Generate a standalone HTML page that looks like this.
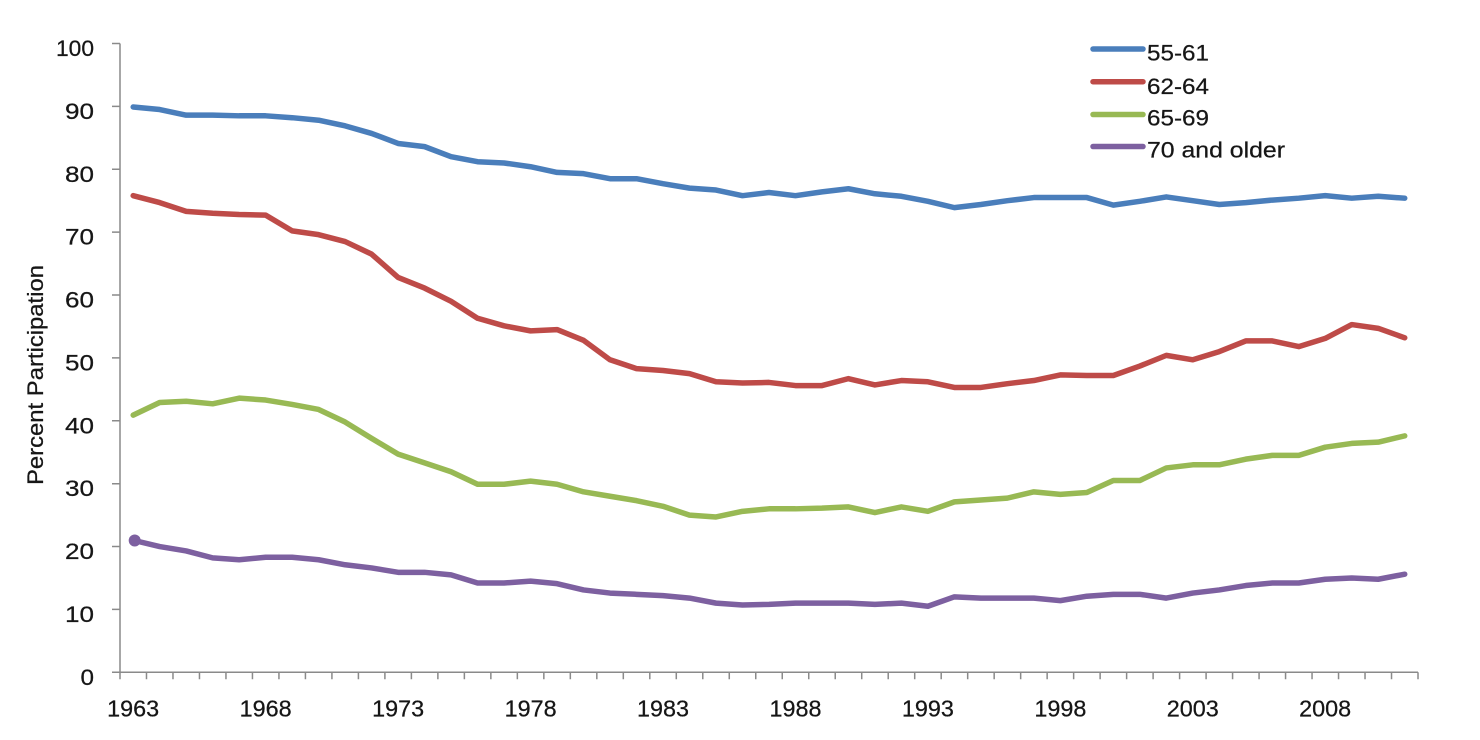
<!DOCTYPE html>
<html>
<head>
<meta charset="utf-8">
<style>
  html,body{margin:0;padding:0;background:#fff;}
  svg{display:block;}
  text{font-family:"Liberation Sans",Arial,sans-serif;fill:#161616;stroke:#161616;stroke-width:0.25;}
</style>
</head>
<body>
<svg width="1480" height="740" viewBox="0 0 1480 740" xmlns="http://www.w3.org/2000/svg">
  <rect x="0" y="0" width="1480" height="740" fill="#ffffff"/>

  <!-- axes -->
  <g stroke="#8a8a8a" stroke-width="1.5" fill="none">
    <line x1="120" y1="43.5" x2="120" y2="672.3"/>
    <line x1="112" y1="672.3" x2="1418" y2="672.3"/>
    <!-- y ticks -->
    <path d="M112,672.3H120 M112,609.4H120 M112,546.5H120 M112,483.7H120 M112,420.8H120 M112,357.9H120 M112,295H120 M112,232.1H120 M112,169.3H120 M112,106.4H120 M112,43.5H120"/>
  </g>
  <!-- x ticks -->
  <g transform="translate(120,672.3) scale(26.49,1)">
    <path fill="none" stroke="#8a8a8a" stroke-width="1.5" vector-effect="non-scaling-stroke"
      d="M0,0V7 M1,0V7 M2,0V7 M3,0V7 M4,0V7 M5,0V7 M6,0V7 M7,0V7 M8,0V7 M9,0V7 M10,0V7 M11,0V7 M12,0V7 M13,0V7 M14,0V7 M15,0V7 M16,0V7 M17,0V7 M18,0V7 M19,0V7 M20,0V7 M21,0V7 M22,0V7 M23,0V7 M24,0V7 M25,0V7 M26,0V7 M27,0V7 M28,0V7 M29,0V7 M30,0V7 M31,0V7 M32,0V7 M33,0V7 M34,0V7 M35,0V7 M36,0V7 M37,0V7 M38,0V7 M39,0V7 M40,0V7 M41,0V7 M42,0V7 M43,0V7 M44,0V7 M45,0V7 M46,0V7 M47,0V7 M48,0V7 M49,0V7"/>
  </g>

  <!-- y tick labels -->
  <g font-size="22" text-anchor="end">
    <text x="94" y="56" textLength="38" lengthAdjust="spacingAndGlyphs">100</text>
    <text x="94" y="118.9" textLength="29" lengthAdjust="spacingAndGlyphs">90</text>
    <text x="94" y="181.8" textLength="29" lengthAdjust="spacingAndGlyphs">80</text>
    <text x="94" y="244.6" textLength="29" lengthAdjust="spacingAndGlyphs">70</text>
    <text x="94" y="307.5" textLength="29" lengthAdjust="spacingAndGlyphs">60</text>
    <text x="94" y="370.4" textLength="29" lengthAdjust="spacingAndGlyphs">50</text>
    <text x="94" y="433.3" textLength="29" lengthAdjust="spacingAndGlyphs">40</text>
    <text x="94" y="496.2" textLength="29" lengthAdjust="spacingAndGlyphs">30</text>
    <text x="94" y="559" textLength="29" lengthAdjust="spacingAndGlyphs">20</text>
    <text x="94" y="621.9" textLength="29" lengthAdjust="spacingAndGlyphs">10</text>
    <text x="94" y="684.8" textLength="13.5" lengthAdjust="spacingAndGlyphs">0</text>
  </g>

  <!-- x tick labels -->
  <g font-size="23" text-anchor="middle">
    <text x="133.2" y="716.7" textLength="52" lengthAdjust="spacingAndGlyphs">1963</text>
    <text x="265.7" y="716.7" textLength="52" lengthAdjust="spacingAndGlyphs">1968</text>
    <text x="398.1" y="716.7" textLength="52" lengthAdjust="spacingAndGlyphs">1973</text>
    <text x="530.6" y="716.7" textLength="52" lengthAdjust="spacingAndGlyphs">1978</text>
    <text x="663.0" y="716.7" textLength="52" lengthAdjust="spacingAndGlyphs">1983</text>
    <text x="795.5" y="716.7" textLength="52" lengthAdjust="spacingAndGlyphs">1988</text>
    <text x="927.9" y="716.7" textLength="52" lengthAdjust="spacingAndGlyphs">1993</text>
    <text x="1060.4" y="716.7" textLength="52" lengthAdjust="spacingAndGlyphs">1998</text>
    <text x="1192.8" y="716.7" textLength="52" lengthAdjust="spacingAndGlyphs">2003</text>
    <text x="1325.2" y="716.7" textLength="52" lengthAdjust="spacingAndGlyphs">2008</text>
  </g>

  <!-- y axis title -->
  <text transform="translate(43,375) rotate(-90)" x="0" y="0" font-size="22" text-anchor="middle" textLength="220" lengthAdjust="spacingAndGlyphs">Percent Participation</text>

  <!-- series -->
  <g transform="translate(133.2,672.3) scale(26.49,-6.288)" fill="none" stroke-width="5.5" stroke-linejoin="round" stroke-linecap="round">
    <polyline vector-effect="non-scaling-stroke" stroke="#4a7ebb" points="0,89.9 1,89.5 2,88.6 3,88.6 4,88.5 5,88.5 6,88.2 7,87.8 8,86.9 9,85.7 10,84.1 11,83.6 12,82.0 13,81.2 14,81.0 15,80.4 16,79.5 17,79.3 18,78.5 19,78.5 20,77.7 21,77.0 22,76.7 23,75.8 24,76.3 25,75.8 26,76.4 27,76.9 28,76.1 29,75.7 30,74.9 31,73.9 32,74.4 33,75.0 34,75.5 35,75.5 36,75.5 37,74.3 38,74.9 39,75.6 40,75.0 41,74.4 42,74.7 43,75.1 44,75.4 45,75.8 46,75.4 47,75.7 48,75.4"/>
    <polyline vector-effect="non-scaling-stroke" stroke="#be4b48" points="0,75.8 1,74.7 2,73.3 3,73.0 4,72.8 5,72.7 6,70.2 7,69.6 8,68.5 9,66.5 10,62.8 11,61.1 12,59.0 13,56.3 14,55.1 15,54.3 16,54.5 17,52.8 18,49.7 19,48.3 20,48.0 21,47.5 22,46.2 23,46.0 24,46.1 25,45.6 26,45.6 27,46.7 28,45.7 29,46.4 30,46.2 31,45.3 32,45.3 33,45.9 34,46.4 35,47.3 36,47.2 37,47.2 38,48.7 39,50.4 40,49.7 41,51.0 42,52.7 43,52.7 44,51.8 45,53.1 46,55.3 47,54.7 48,53.2"/>
    <polyline vector-effect="non-scaling-stroke" stroke="#98b954" points="0,40.9 1,42.9 2,43.1 3,42.7 4,43.6 5,43.3 6,42.6 7,41.8 8,39.8 9,37.2 10,34.7 11,33.3 12,31.9 13,29.9 14,29.9 15,30.4 16,29.9 17,28.7 18,28.0 19,27.3 20,26.4 21,25.0 22,24.7 23,25.6 24,26.0 25,26.0 26,26.1 27,26.3 28,25.4 29,26.3 30,25.6 31,27.1 32,27.4 33,27.7 34,28.7 35,28.3 36,28.6 37,30.5 38,30.5 39,32.5 40,33.0 41,33.0 42,33.9 43,34.5 44,34.5 45,35.8 46,36.4 47,36.6 48,37.6"/>
    <polyline vector-effect="non-scaling-stroke" stroke="#7d60a0" points="0,21.0 1,20.0 2,19.3 3,18.2 4,17.9 5,18.3 6,18.3 7,17.9 8,17.1 9,16.6 10,15.9 11,15.9 12,15.5 13,14.2 14,14.2 15,14.5 16,14.1 17,13.1 18,12.6 19,12.4 20,12.2 21,11.8 22,11.0 23,10.7 24,10.8 25,11.0 26,11.0 27,11.0 28,10.8 29,11.0 30,10.5 31,12.0 32,11.8 33,11.8 34,11.8 35,11.4 36,12.1 37,12.4 38,12.4 39,11.8 40,12.6 41,13.1 42,13.8 43,14.2 44,14.2 45,14.8 46,15.0 47,14.8 48,15.6"/>
  </g>
  <!-- purple start marker -->
  <circle cx="134.7" cy="540.5" r="6" fill="#7d60a0"/>

  <!-- legend -->
  <g stroke-width="5.5" stroke-linecap="round">
    <line x1="1093" y1="49" x2="1143" y2="49" stroke="#4a7ebb"/>
    <line x1="1093" y1="81.7" x2="1143" y2="81.7" stroke="#be4b48"/>
    <line x1="1093" y1="114.5" x2="1143" y2="114.5" stroke="#98b954"/>
    <line x1="1093" y1="146.5" x2="1143" y2="146.5" stroke="#7d60a0"/>
  </g>
  <g font-size="22">
    <text x="1147" y="60.7" textLength="62" lengthAdjust="spacingAndGlyphs">55-61</text>
    <text x="1147" y="94" textLength="62" lengthAdjust="spacingAndGlyphs">62-64</text>
    <text x="1147" y="125.7" textLength="62" lengthAdjust="spacingAndGlyphs">65-69</text>
    <text x="1147" y="157.3" textLength="138" lengthAdjust="spacingAndGlyphs">70 and older</text>
  </g>
</svg>
</body>
</html>
